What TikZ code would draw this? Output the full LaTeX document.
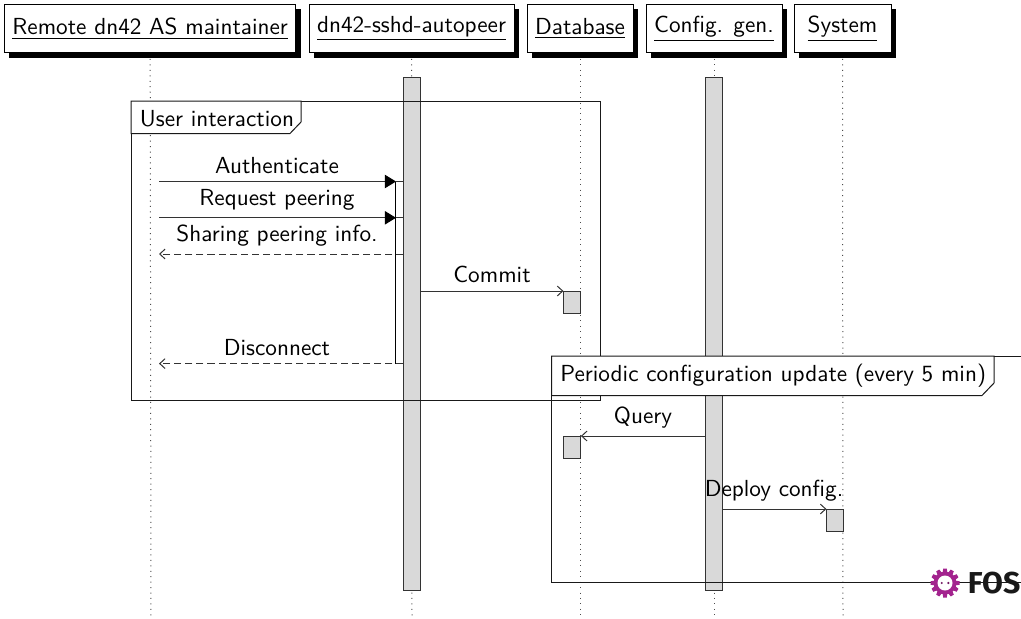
\documentclass[tikz,border=0pt]{standalone}
\usepackage{fontspec}
\newfontfamily\fosfont{Fira Sans}
\usetikzlibrary{arrows.meta,shadows}
\definecolor{actgray}{gray}{0.85}
\definecolor{fospurple}{HTML}{A3238E}
\newcommand{\diagfont}{\sffamily\fontsize{10.45pt}{12.5pt}\selectfont}
\tikzset{
  hdr/.style={draw=black,fill=white,line width=0.45pt,inner sep=0pt,minimum height=48.4*0.45pt,anchor=center,font=\diagfont,
    general shadow={shadow xshift=2.25pt,shadow yshift=-2.25pt,fill=black}},
  lifeline/.style={dotted,line width=0.45pt,black!70},
  act/.style={draw=black!80,fill=actgray,line width=0.45pt,inner sep=0pt,anchor=north west},
  framebox/.style={draw=black!90,line width=0.45pt},
  tabshape/.style={draw=black!90,fill=white,line width=0.45pt},
  lbl/.style={font=\diagfont,inner sep=0pt,anchor=base},
  tabtxt/.style={font=\diagfont,inner sep=0pt,anchor=base west},
  msg/.style={line width=0.45pt,black!80},
  filledtip/.style={-{Triangle[length=5pt,width=6pt,black]}},
  opentip/.style={-{Straight Barb[length=2.4pt,width=4.4pt]}},
  retmsg/.style={msg,dash pattern=on 3.2pt off 1.8pt,opentip},
  selfbar/.style={line width=0.45pt,black}
}
\begin{document}
\begin{tikzpicture}[x=0.45pt,y=-0.45pt]
\useasboundingbox (0,0) rectangle (1021,618);
\fill[white] (0,0) rectangle (1021,618);
% lifeline ends
\coordinate (l1b) at (151,618); \coordinate (l2b) at (412,618); \coordinate (l3b) at (580,618);
\coordinate (l4b) at (714,618); \coordinate (l5b) at (843,618);
% headers
\node[hdr,minimum width=291.5*0.45pt] (h1) at (150.2,28.5) {\underline{Remote dn42 AS maintainer}};
\node[hdr,minimum width=205*0.45pt] (h2) at (411.5,28.5) {\underline{dn42-sshd-autopeer}};
\node[hdr,minimum width=106*0.45pt] (h3) at (580,28.5) {\underline{Database}};
\node[hdr,minimum width=136*0.45pt] (h4) at (714,28.5) {\underline{Config. gen.}};
\node[hdr,minimum width=97*0.45pt] (h5) at (842.5,28.5) {\underline{System}};
\foreach \n in {1,...,5} \draw[lifeline] ([yshift=-2.6pt]h\n.south) -- (l\n b);
% activations
\node[act,minimum width=16.5*0.45pt,minimum height=513*0.45pt] (a2) at (403.4,77.2) {};
\node[act,minimum width=16.5*0.45pt,minimum height=513*0.45pt] (a4) at (705.4,77.2) {};
\node[act,minimum width=16.5*0.45pt,minimum height=22*0.45pt] (d1) at (563.4,291) {};
\node[act,minimum width=16.5*0.45pt,minimum height=22*0.45pt] (d2) at (563.4,436) {};
\node[act,minimum width=16.5*0.45pt,minimum height=22*0.45pt] (s1) at (826.4,509) {};
% frames
\draw[framebox] (131,101) rectangle (600,400.5);
\draw[framebox] (1030,582) -- (551.5,582) -- (551.5,356) -- (1030,356);
\draw[tabshape] (131,101) -- (301,101) -- (301,122) -- (290,133.5) -- (131,133.5) -- cycle;
\draw[tabshape] (551.5,356) -- (994,356) -- (994,383) -- (982,395.5) -- (551.5,395.5) -- cycle;
\draw[framebox] (994,356) -- (1030,356);
\node[tabtxt] (tabu) at (139.5,126) {User interaction};
\node[tabtxt] (tabp) at (560,381) {Periodic configuration update (every 5 min)};
% messages
\coordinate (m1a) at (159,181.5); \coordinate (m1b) at (396,181.5);
\coordinate (m2a) at (159,217.8); \coordinate (m2b) at (396,217.8);
\coordinate (m3a) at (403.4,254); \coordinate (m3b) at (159,254);
\coordinate (m4a) at (403.4,363.6); \coordinate (m4b) at (159,363.6);
\coordinate (barT) at (395.7,181.5); \coordinate (barB) at (395.7,363.6);
\draw[selfbar] (barT) -- (barB);
\draw[msg] (barT) -- (a2.west |- barT);
\draw[msg] (barT |- m2a) -- (a2.west |- m2a);
\draw[msg] (barB) -- (a2.west |- barB);
\draw[msg,filledtip] (m1a) -- (m1b);
\draw[msg,filledtip] (m2a) -- (m2b);
\draw[retmsg] (m3a) -- (m3b);
\draw[retmsg] (m4a) -- (m4b);
\draw[msg,opentip] (a2.east |- d1.north) -- (d1.north west);
\draw[msg,opentip] (a4.west |- d2.north) -- (d2.north east);
\draw[msg,opentip] (a4.east |- s1.north) -- (s1.north west);
% message labels
\node[lbl] (ml1) at (277,173.5) {Authenticate};
\node[lbl] (ml2) at (277,205.5) {Request peering};
\node[lbl] (ml3) at (277,241.5) {Sharing peering info.};
\node[lbl] (ml4) at (277,355.5) {Disconnect};
\node[lbl] (ml5) at (492,282.5) {Commit};
\node[lbl] (ml6) at (643,423.5) {Query};
\node[lbl] (ml7) at (774,496.5) {Deploy config.};
% logo
\fill[fospurple] (945,583) circle (11.5);
\foreach \a in {0,30,...,330}
  \fill[fospurple,rotate around={\a:(945,583)}] (942.6,573) -- (943.2,568.5) -- (946.8,568.5) -- (947.4,573) -- cycle;
\fill[white] (945,583) circle (7.5);
\fill[fospurple!70!black] (941.7,583) circle (1.2) (948.3,583) circle (1.2);
\node[inner sep=0pt,anchor=base west,font=\fosfont\bfseries\fontsize{13.6pt}{15pt}\selectfont,text=black!90] (fos) at (967.5,593.5) {FOS};
\end{tikzpicture}
\end{document}
